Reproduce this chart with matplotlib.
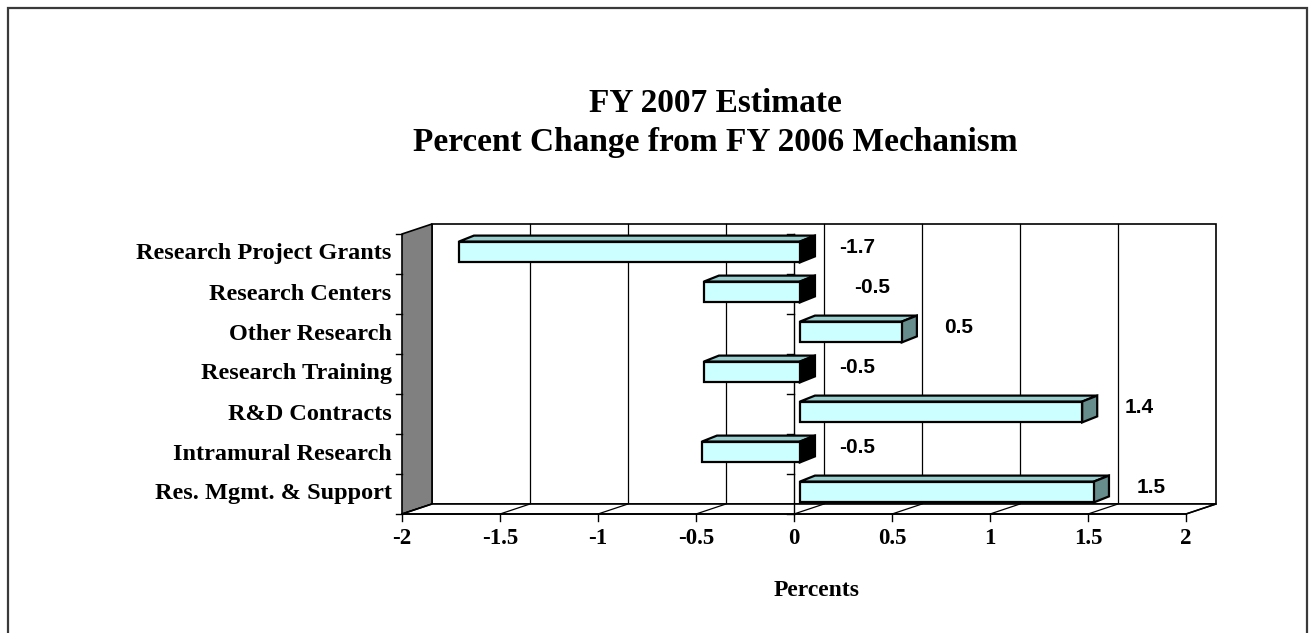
# FY 2007 estimate: percent change from FY 2006 by mechanism (Excel-style 3D bars)
import matplotlib

matplotlib.use("Agg")
import matplotlib.pyplot as plt
from matplotlib.patches import Polygon, Rectangle

categories = [
    "Research Project Grants",
    "Research Centers",
    "Other Research",
    "Research Training",
    "R&D Contracts",
    "Intramural Research",
    "Res. Mgmt. & Support",
]
values = [-1.74, -0.49, 0.52, -0.49, 1.44, -0.50, 1.50]
x_ticks = [-2, -1.5, -1, -0.5, 0, 0.5, 1, 1.5, 2]
x_tick_labels = ["-2", "-1.5", "-1", "-0.5", "0", "0.5", "1", "1.5", "2"]

SERIF = "Liberation Serif"
SANS = "Liberation Sans"

# depth of the box (wall offset) and of each bar, in data units
WALL_DX, WALL_DY = 0.153, 0.25
BAR_X0, BAR_Y0 = 0.03, 0.05
BAR_DX, BAR_DY = 0.077, 0.15
BAR_HALF = 0.26

FRONT = "#CCFFFF"
TOP = "#99CCCC"
SIDE_POS = "#668C8C"
SIDE_NEG = "#000000"

fig = plt.figure(figsize=(13.12, 6.33), dpi=100)
fig.patches.append(
    Rectangle((8 / 1312, -0.01), 1299 / 1312, 1 - 8 / 633 + 0.01, transform=fig.transFigure,
              fill=False, edgecolor="#3a3a3a", linewidth=1.6)
)

ax = fig.add_axes([402 / 1312, 119 / 633, 784 / 1312, 280 / 633])
n = len(categories)
ax.set_xlim(-2, 2)
ax.set_ylim(n, 0)
ax.axis("off")

xmin, xmax = -2, 2
# back wall
ax.add_patch(Rectangle((xmin + WALL_DX, -WALL_DY), xmax - xmin, n, facecolor="white",
                       edgecolor="black", linewidth=1.2, clip_on=False, zorder=1))
# left side wall
ax.add_patch(Polygon([(xmin, 0), (xmin + WALL_DX, -WALL_DY), (xmin + WALL_DX, n - WALL_DY), (xmin, n)],
                     closed=True, facecolor="#808080", edgecolor="black", linewidth=1.2,
                     clip_on=False, zorder=2))
# floor
ax.add_patch(Polygon([(xmin, n), (xmax, n), (xmax + WALL_DX, n - WALL_DY), (xmin + WALL_DX, n - WALL_DY)],
                     closed=True, facecolor="white", edgecolor="black", linewidth=1.2,
                     clip_on=False, zorder=2))

for t, tl in zip(x_ticks, x_tick_labels):
    # gridline on back wall and its slant across the floor
    if xmin < t < xmax:
        ax.plot([t + WALL_DX, t + WALL_DX], [-WALL_DY, n - WALL_DY], color="black", lw=0.9,
                clip_on=False, zorder=1.5)
    ax.plot([t, t + WALL_DX], [n, n - WALL_DY], color="black", lw=0.9, clip_on=False, zorder=2.5)
    ax.plot([t, t], [n, n + 0.17], color="black", lw=1.0, clip_on=False, zorder=2.5)
    ax.annotate(tl, (t, n), xytext=(0, -17.5), textcoords="offset points",
                ha="center", va="center", fontsize=16.5, fontweight="bold", family=SERIF,
                annotation_clip=False)

# front axis line and category axis at zero
ax.plot([xmin, xmax], [n, n], color="black", lw=1.2, clip_on=False, zorder=3)
ax.plot([0, 0], [0, n], color="black", lw=1.0, clip_on=False, zorder=3)
for k in range(n + 1):
    ax.plot([xmin - 0.03, xmin], [k, k], color="black", lw=1.0, clip_on=False, zorder=3)
    ax.plot([-0.035, 0], [k, k], color="black", lw=1.0, clip_on=False, zorder=3)

label_shift = [0.32, 0.4, 0.32, 0.32, 0.32, 0.32, 0.32]
for i, (label, v) in enumerate(zip(categories, values)):
    c = i + 0.5
    left = min(v, 0) + BAR_X0
    right = max(v, 0) + BAR_X0
    top = c - BAR_HALF - BAR_Y0
    bottom = c + BAR_HALF - BAR_Y0
    side = SIDE_NEG if v < 0 else SIDE_POS
    kw = dict(closed=True, edgecolor="black", linewidth=1.6, joinstyle="miter", clip_on=False, zorder=4)
    ax.add_patch(Polygon([(left, top), (left + BAR_DX, top - BAR_DY), (right + BAR_DX, top - BAR_DY),
                          (right, top)], facecolor=TOP, **kw))
    ax.add_patch(Polygon([(right, top), (right + BAR_DX, top - BAR_DY), (right + BAR_DX, bottom - BAR_DY),
                          (right, bottom)], facecolor=side, **kw))
    ax.add_patch(Polygon([(left, top), (right, top), (right, bottom), (left, bottom)],
                         facecolor=FRONT, **kw))

    ax.annotate(f"{v:.1f}", (max(v, 0) + label_shift[i], c), xytext=(0, 5), textcoords="offset points",
                ha="center", va="center", fontsize=15, fontweight="bold", family=SANS,
                annotation_clip=False)
    ax.annotate(label, (xmin, c), xytext=(-7.5, 0), textcoords="offset points", ha="right",
                va="center", fontsize=17.5, fontweight="bold", family=SERIF, annotation_clip=False)

fig.text(715 / 1312, 1 - 103 / 633, "FY 2007 Estimate", ha="center", va="center",
         fontsize=24, fontweight="bold", family=SERIF)
fig.text(715 / 1312, 1 - 143 / 633, "Percent Change from FY 2006 Mechanism", ha="center",
         va="center", fontsize=24, fontweight="bold", family=SERIF)
fig.text(817 / 1312, 1 - 591 / 633, "Percents", ha="center", va="center",
         fontsize=17, fontweight="bold", family=SERIF)

fig.savefig("out.png", dpi=100, facecolor="white")
